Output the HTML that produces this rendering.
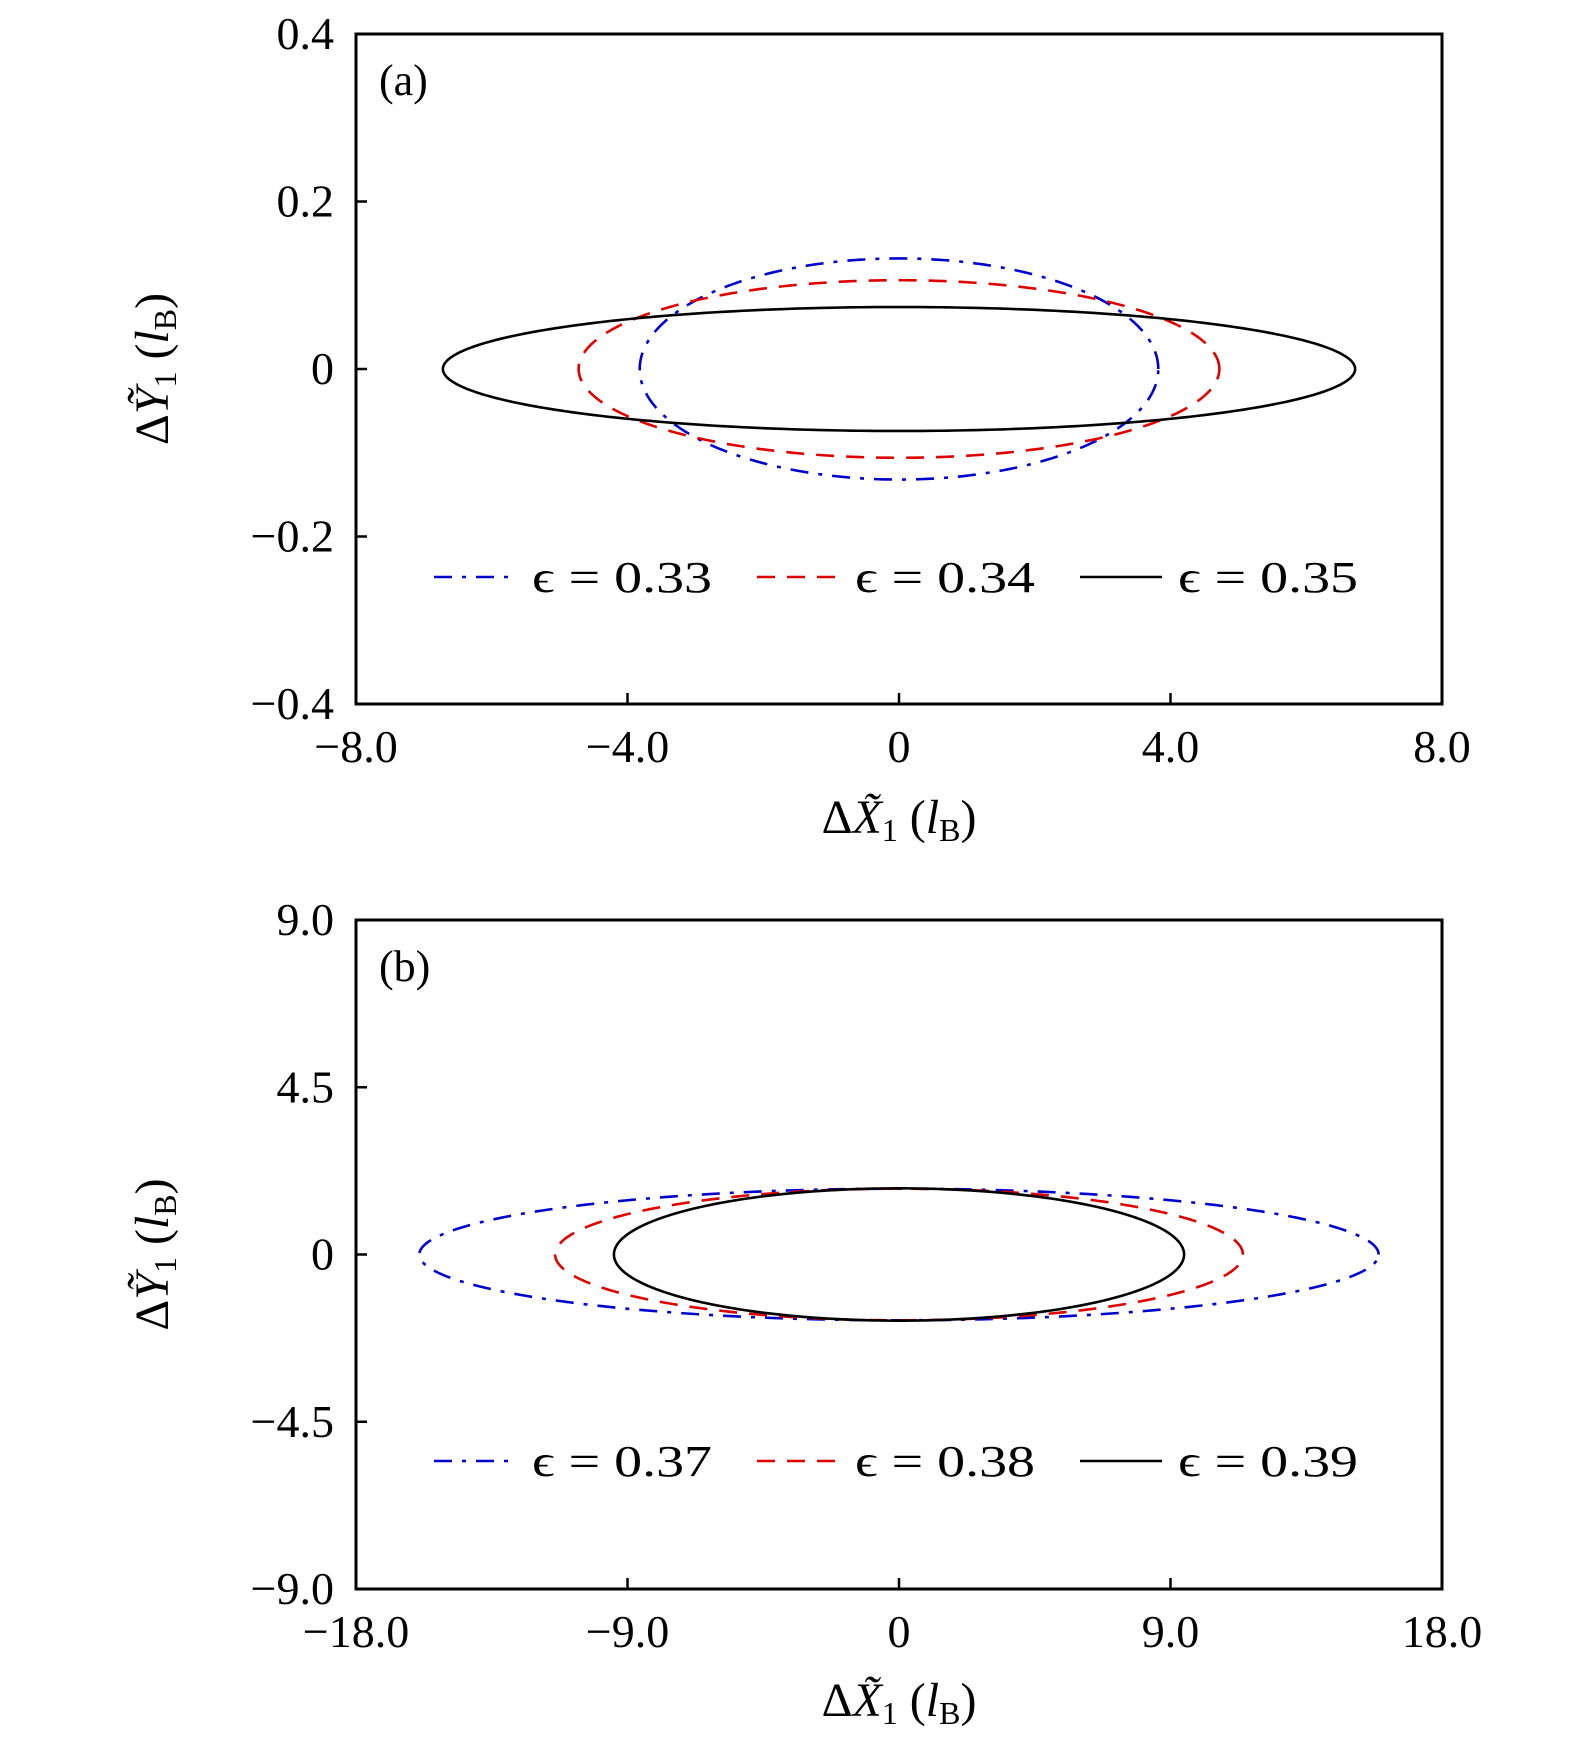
<!DOCTYPE html>
<html><head><meta charset="utf-8"><style>
html,body{margin:0;padding:0;background:#fff;}
svg{display:block;font-family:"Liberation Serif","DejaVu Serif",serif;}
</style></head><body>
<svg id="chart" width="1575" height="1742" viewBox="0 0 1575 1742"></svg>
<script>
// Panel (a) data
const aSeriesLabels = ["ϵ = 0.33","ϵ = 0.34","ϵ = 0.35"];
const aCx = [0.0, 0.0, 0.0];
const aRx = [3.82, 4.72, 6.72];
const aRy = [0.132, 0.106, 0.074];
const aXTicks = [-8, -4, 0, 4, 8];
const aXTickLabels = ["−8.0","−4.0","0","4.0","8.0"];
const aYTicks = [-0.4, -0.2, 0, 0.2, 0.4];
const aYTickLabels = ["−0.4","−0.2","0","0.2","0.4"];
// Panel (b) data
const bSeriesLabels = ["ϵ = 0.37","ϵ = 0.38","ϵ = 0.39"];
const bCx = [0.0, 0.0, 0.0];
const bRx = [15.9, 11.4, 9.45];
const bRy = [1.77, 1.77, 1.78];
const bXTicks = [-18, -9, 0, 9, 18];
const bXTickLabels = ["−18.0","−9.0","0","9.0","18.0"];
const bYTicks = [-9, -4.5, 0, 4.5, 9];
const bYTickLabels = ["−9.0","−4.5","0","4.5","9.0"];

const NS = "http://www.w3.org/2000/svg";
const svg = document.getElementById("chart");
const colors = ["#0000cc","#dd0000","#000000"];
const dashes = ["18 10 4 10","18 12",""];
function mk(tag, attrs, parent){
  const e = document.createElementNS(NS, tag);
  for (const k in attrs) e.setAttribute(k, attrs[k]);
  (parent||svg).appendChild(e);
  return e;
}
function panel(opt){
  const g = mk("g", {});
  
  
  const L=356, R=1442, T=opt.top, B=opt.bottom;
  const xs = v => L + (v - opt.xmin)/(opt.xmax-opt.xmin)*(R-L);
  const ys = v => B - (v - opt.ymin)/(opt.ymax-opt.ymin)*(B-T);
  for (let i=0;i<opt.cx.length;i++){
    let d="";
    for (let k=0;k<=360;k++){
      const t=k/360*2*Math.PI;
      const x=xs(opt.cx[i]+opt.rx[i]*Math.cos(t)), y=ys(opt.ry[i]*Math.sin(t));
      d += (k?"L":"M")+x.toFixed(2)+","+y.toFixed(2);
    }
    const p = mk("path",{d:d+"Z",fill:"none",stroke:colors[i],"stroke-width":2.6,"stroke-dasharray":dashes[i]||"none"},g);
    
    
  }
  const f = mk("rect",{x:L,y:T,width:R-L,height:B-T,fill:"none",stroke:"#000","stroke-width":3},g);
  
  
  opt.xt.forEach((v,i)=>{
    const x=xs(v);
    if (i>0 && i<opt.xt.length-1) mk("line",{x1:x,x2:x,y1:B,y2:B-11,stroke:"#000","stroke-width":2.5},g);
    const t = mk("text",{x:x,y:B+58,"font-size":46,"text-anchor":"middle"},g);
    t.textContent = opt.xl[i];
    
    
  });
  opt.yt.forEach((v,i)=>{
    const y=ys(v);
    if (i>0 && i<opt.yt.length-1) mk("line",{x1:L,x2:L+11,y1:y,y2:y,stroke:"#000","stroke-width":2.5},g);
    const t = mk("text",{x:334,y:y+15,"font-size":46,"text-anchor":"end"},g);
    t.textContent = opt.yl[i];
    
    
  });
  const tg = mk("text",{x:379,y:opt.top+61,"font-size":44},g);
  tg.textContent = opt.tag;
  
  
  const lx=[434,757,1080];
  for (let i=0;i<3;i++){
    const lg = mk("g",{},g);
    
    
    mk("line",{x1:lx[i],x2:lx[i]+82,y1:opt.legY,y2:opt.legY,stroke:colors[i],"stroke-width":2.6,"stroke-dasharray":dashes[i]||"none"},lg);
    const t = mk("text",{x:lx[i]+98,y:opt.legY+15,"font-size":44,textLength:180,lengthAdjust:"spacingAndGlyphs"},lg);
    t.textContent = opt.labels[i];
  }
  const xt = mk("text",{x:(L+R)/2,y:opt.xTitleY,"font-size":48,"text-anchor":"middle"},g);
  xt.innerHTML = 'Δ<tspan font-style="italic">X̃</tspan><tspan font-size="32" dy="8">1</tspan><tspan dy="-8"> (</tspan><tspan font-style="italic">l</tspan><tspan font-size="32" dy="8">B</tspan><tspan dy="-8">)</tspan>';
  
  
  const cy=(T+B)/2;
  const yt = mk("text",{x:0,y:0,"font-size":48,"text-anchor":"middle",transform:`translate(168,${cy}) rotate(-90)`},g);
  yt.innerHTML = 'Δ<tspan font-style="italic">Ỹ</tspan><tspan font-size="32" dy="8">1</tspan><tspan dy="-8"> (</tspan><tspan font-style="italic">l</tspan><tspan font-size="32" dy="8">B</tspan><tspan dy="-8">)</tspan>';
  
  
}
panel({name:"panel-a",top:34,bottom:704,xmin:-8,xmax:8,ymin:-0.4,ymax:0.4,cx:aCx,rx:aRx,ry:aRy,
  xt:aXTicks,xl:aXTickLabels,yt:aYTicks,yl:aYTickLabels,tag:"(a)",legY:577,xTitleY:833,labels:aSeriesLabels});
panel({name:"panel-b",top:920,bottom:1589,xmin:-18,xmax:18,ymin:-9,ymax:9,cx:bCx,rx:bRx,ry:bRy,
  xt:bXTicks,xl:bXTickLabels,yt:bYTicks,yl:bYTickLabels,tag:"(b)",legY:1461,xTitleY:1716,labels:bSeriesLabels});
</script>
</body></html>
